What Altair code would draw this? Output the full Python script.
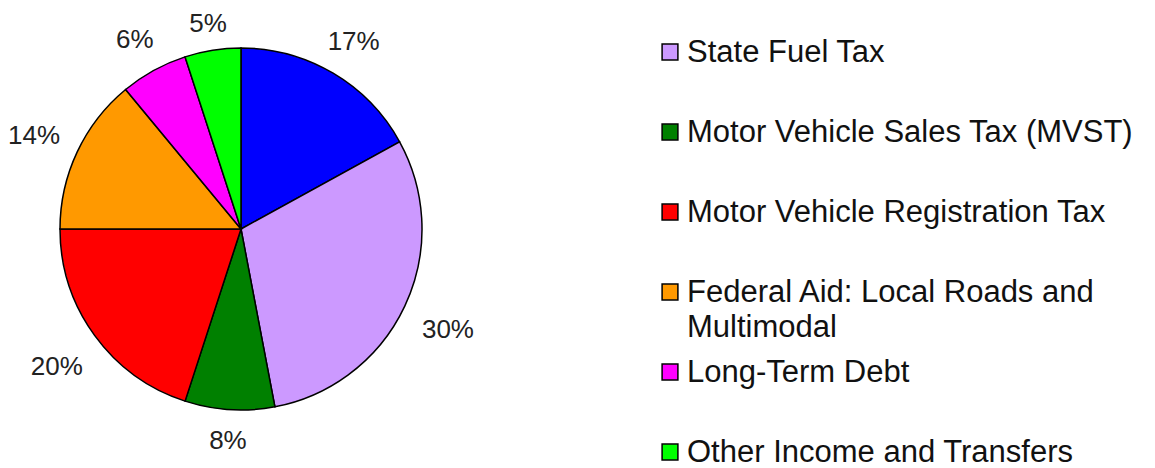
import altair as alt
import pandas as pd

# ---- data ----
slice_names = [
    "Unlisted source",
    "State Fuel Tax",
    "Motor Vehicle Sales Tax (MVST)",
    "Motor Vehicle Registration Tax",
    "Federal Aid: Local Roads and Multimodal",
    "Long-Term Debt",
    "Other Income and Transfers",
]
shares = [17, 30, 8, 20, 14, 6, 5]
slice_colors = ["#0000FF", "#CC99FF", "#008000", "#FF0000", "#FF9900", "#FF00FF", "#00FF00"]

legend_labels = [
    "State Fuel Tax",
    "Motor Vehicle Sales Tax (MVST)",
    "Motor Vehicle Registration Tax",
    "Federal Aid: Local Roads and\nMultimodal",
    "Long-Term Debt",
    "Other Income and Transfers",
]
legend_colors = ["#CC99FF", "#008000", "#FF0000", "#FF9900", "#FF00FF", "#00FF00"]

FONT = "Liberation Sans, Arial, Helvetica, sans-serif"
CX, CY, R = 233, 221, 181

pie_df = pd.DataFrame({
    "name": slice_names,
    "share": shares,
    "color": slice_colors,
    "idx": list(range(len(shares))),
})
leg_df = pd.DataFrame({
    "label": legend_labels,
    "color": legend_colors,
    "i": list(range(len(legend_labels))),
})

base = alt.Chart(pie_df)

arcs = base.mark_arc(radius=R, stroke="black", strokeWidth=1.5).encode(
    theta=alt.Theta("share:Q", stack=True),
    color=alt.Color("color:N", scale=None),
    order=alt.Order("idx:Q"),
    x=alt.value(CX),
    y=alt.value(CY),
)

labels = base.transform_joinaggregate(
    total="sum(share)"
).transform_window(
    cum="sum(share)", sort=[alt.SortField("idx")]
).transform_calculate(
    a="2*PI*(datum.cum - datum.share/2)/datum.total",
).transform_calculate(
    rr="192 + 14*abs(cos(datum.a)) + 34*abs(sin(datum.a))",
).transform_calculate(
    lx=f"{CX} + datum.rr*sin(datum.a)",
    ly=f"{CY} + 4 - datum.rr*cos(datum.a)",
    lab="datum.share + '%'",
).mark_text(
    fontSize=26, font=FONT, color="#222222", align="center", baseline="middle"
).encode(
    x=alt.X("lx:Q", scale=None, axis=None),
    y=alt.Y("ly:Q", scale=None, axis=None),
    text="lab:N",
)

leg = alt.Chart(leg_df).transform_calculate(
    sy="44 + 80*datum.i",
    ty="53.5 + 80*datum.i",
)

leg_sq = leg.mark_square(size=250, stroke="black", strokeWidth=1.5, opacity=1).encode(
    x=alt.value(662),
    y=alt.Y("sy:Q", scale=None, axis=None),
    color=alt.Color("color:N", scale=None),
)

leg_txt = leg.mark_text(
    fontSize=31, font=FONT, color="#111111", align="left", baseline="alphabetic",
    lineBreak="\n", lineHeight=35,
).encode(
    x=alt.value(679),
    y=alt.Y("ty:Q", scale=None, axis=None),
    text="label:N",
)

chart = alt.layer(arcs, labels, leg_sq, leg_txt).properties(
    width=1139, height=460,
    autosize=alt.AutoSizeParams(type="none"),
    padding=0,
).configure_view(stroke=None)

chart.save("out.html", embed_options={"renderer": "svg", "actions": False})
